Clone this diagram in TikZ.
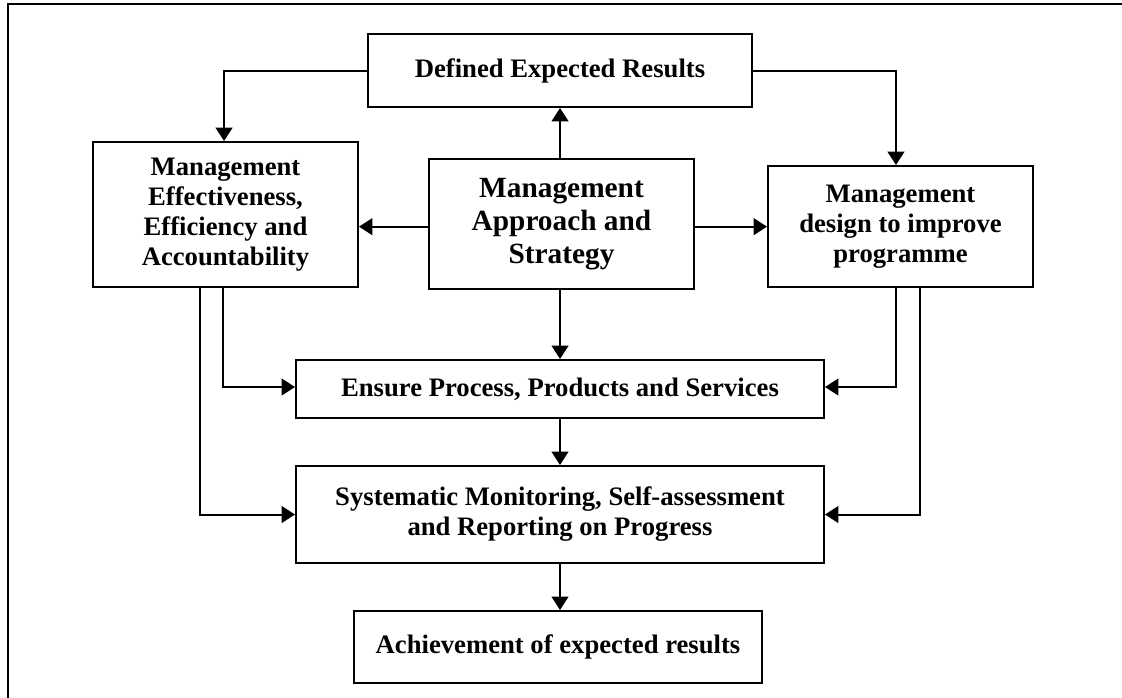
\documentclass[tikz,border=0pt]{standalone}
\usepackage{fontspec}
\setmainfont{Liberation Serif}
\usetikzlibrary{arrows.meta}

\begin{document}
\begin{tikzpicture}[x=0.75pt,y=-0.75pt,
    box/.style={draw, line width=1.5pt, align=center, inner sep=0pt,
      font=\fontsize{20}{22.5}\selectfont\bfseries},
    arr/.style={line width=1.5pt, -{Triangle[length=10pt,width=12.5pt]}}]
    \useasboundingbox (0,0) rectangle (1122,697);

    % Outer frame (only top and left edges show)
    \draw[line width=1.5pt] (8,700) -- (8,4) -- (1125,4);

    % Boxes
    \node[box, minimum width=288pt, minimum height=54.75pt] (res) at (560,70.5) {Defined Expected Results};
    \node[box, minimum width=198.75pt, minimum height=97.5pt,
      font=\fontsize{22}{24.75}\selectfont\bfseries] (strat) at (561.5,224) {Management\\Approach and\\Strategy};
    \node[box, minimum width=198.75pt, minimum height=108.75pt] (eff) at (225.5,214.5) {Management\\Effectiveness,\\Efficiency and\\Accountability};
    \node[box, minimum width=198.75pt, minimum height=90.75pt] (des) at (900.5,226.5) {Management\\design to improve\\programme};
    \node[box, minimum width=396pt, minimum height=43.5pt] (ens) at (560,389) {Ensure Process, Products and Services};
    \node[box, minimum width=396pt, minimum height=72.75pt] (mon) at (560,514.5) {Systematic Monitoring, Self-assessment\\and Reporting on Progress};
    \node[box, minimum width=306pt, minimum height=54pt] (ach) at (558,647) {Achievement of expected results};

    % From the expected results down to the side boxes
    \draw[arr] (res.west) -| ([xshift=-1.1pt]eff.north);
    \draw[arr] (res.east) -| ([xshift=-3.4pt]des.north);

    % From the strategy box outwards
    \draw[arr] ([xshift=-1.1pt]strat.north) -- ([xshift=-1.1pt]strat.north |- res.south);
    \draw[arr] ([yshift=-2pt]strat.west) -- ([yshift=-2pt]strat.west -| eff.east);
    \draw[arr] ([yshift=-2pt]strat.east) -- ([yshift=-2pt]strat.east -| des.west);
    \draw[arr] ([xshift=-1.1pt]strat.south) -- ([xshift=-1.1pt]strat.south |- ens.north);

    % Down the middle
    \draw[arr] (ens.south) -- (mon.north);
    \draw[arr] (mon.south) -- (mon.south |- ach.north);

    % Side feeds into the lower boxes
    \draw[arr] ([xshift=-1.9pt]eff.south) |- ([yshift=1.5pt]ens.west);
    \draw[arr] ([xshift=-19.1pt]eff.south) |- (mon.west);
    \draw[arr] ([xshift=-3.4pt]des.south) |- ([yshift=1.5pt]ens.east);
    \draw[arr] ([xshift=14.6pt]des.south) |- (mon.east);
\end{tikzpicture}
\end{document}
